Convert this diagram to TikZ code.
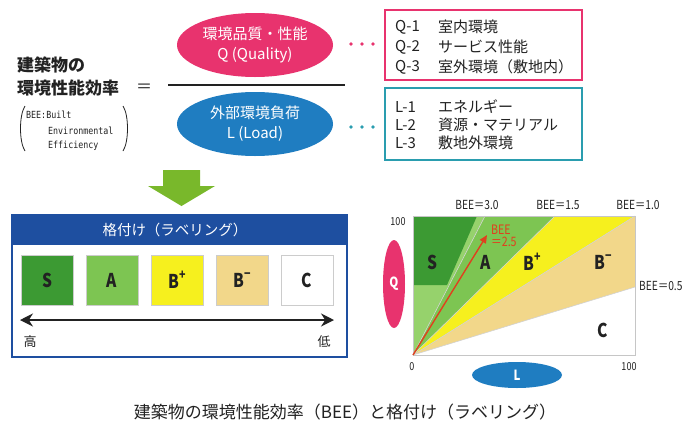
\documentclass[tikz,border=0pt]{standalone}
\usepackage{fontspec}
\usetikzlibrary{shapes.geometric,arrows.meta}
\setmainfont{Noto Sans CJK JP}
\newfontfamily\cond{Noto Sans CJK JP}[FakeStretch=0.82]
\newfontfamily\mono{DejaVu Sans Mono}[FakeStretch=0.85]
\definecolor{txt}{HTML}{222222}
\definecolor{qpink}{HTML}{E8336E}
\definecolor{lblue}{HTML}{1F7DC1}
\definecolor{myteal}{HTML}{2A9DAF}
\definecolor{hdrblue}{HTML}{1E4FA0}
\definecolor{gS}{HTML}{3C9A33}
\definecolor{gA}{HTML}{7DC552}
\definecolor{gL}{HTML}{96D26C}
\definecolor{yB}{HTML}{F6F01E}
\definecolor{tB}{HTML}{F2D78A}
\definecolor{arrowgreen}{HTML}{79B82B}
\definecolor{redarr}{HTML}{E0401E}
\tikzset{
  bodytxt/.style={font=\fontsize{15}{18}\selectfont, anchor=west},
  chartlbl/.style={font=\cond\fontsize{12.5}{13}\selectfont},
  bigletter/.style={font=\cond\bfseries\fontsize{19}{20}\selectfont},
  legsq/.style={draw=gray!40, line width=0.6pt, minimum width=52pt, minimum height=50pt, font=\cond\bfseries\fontsize{19}{20}\selectfont},
  sep/.style={draw=gray!35, line width=0.6pt},
  qdot/.style={circle, fill=qpink, minimum size=3.6pt},
  ldot/.style={circle, fill=myteal, minimum size=3.6pt},
}
\newcommand{\suprx}[1]{\raisebox{0.45em}{\fontsize{13}{13}\selectfont #1}}
\begin{document}
\begin{tikzpicture}[x=1pt,y=-1pt, every node/.style={inner sep=0pt, text=txt}]
\useasboundingbox (0,0) rectangle (689,424);
\fill[white] (0,0) rectangle (689,424);

% ---------- formula ----------
\node[font=\bfseries\fontsize{17}{20}\selectfont, anchor=west] (t1) at (17,65) {建築物の};
\node[font=\bfseries\fontsize{17}{20}\selectfont, anchor=west] (t2) at (17,88) {環境性能効率};
\node[font=\fontsize{16}{16}\selectfont] (eq) at (144,88) {＝};
\node[font=\mono\fontsize{9.8}{11}\selectfont, anchor=west] (b1) at (26,115) {BEE:Built};
\node[font=\mono\fontsize{9.8}{11}\selectfont, anchor=west] (b2) at (48,131) {Environmental};
\node[font=\mono\fontsize{9.8}{11}\selectfont, anchor=west] (b3) at (48,146) {Efficiency};
\draw[line width=0.8pt, txt] (25,106) .. controls (19,115) and (19,142) .. (25,151);
\draw[line width=0.8pt, txt] (123,106) .. controls (129,115) and (129,142) .. (123,151);

\node[ellipse, fill=qpink, minimum width=156pt, minimum height=64pt, align=center,
      text=white, font=\fontsize{15}{20}\selectfont] (qell) at (255,45) {環境品質・性能\\Q (Quality)};
\node[ellipse, fill=lblue, minimum width=156pt, minimum height=64pt, align=center,
      text=white, font=\fontsize{15}{20}\selectfont] (lell) at (255,124) {外部環境負荷\\L (Load)};
\coordinate (fl) at (168,85);
\coordinate (fr) at (345,85);
\draw[line width=1.3pt, txt] (fl) -- (fr);

\node[qdot] (qd1) at (351,44) {};
\node[qdot] (qd2) at (362,44) {};
\node[qdot] (qd3) at (373,44) {};
\node[ldot] (ld1) at (351,127) {};
\node[ldot] (ld2) at (362,127) {};
\node[ldot] (ld3) at (373,127) {};

\draw[qpink, line width=1.3pt] (385,10) rectangle (582,80);
\node[bodytxt] (q1) at (395,27) {Q-1};
\node[bodytxt] (q1t) at (438,27) {室内環境};
\node[bodytxt] (q2) at (395,47) {Q-2};
\node[bodytxt] (q2t) at (438,47) {サービス性能};
\node[bodytxt] (q3) at (395,67) {Q-3};
\node[bodytxt] (q3t) at (438,67) {室外環境（敷地内）};

\draw[myteal, line width=1.3pt] (385,88) rectangle (582,160);
\node[bodytxt] (l1) at (395,107) {L-1};
\node[bodytxt] (l1t) at (438,107) {エネルギー};
\node[bodytxt] (l2) at (395,125) {L-2};
\node[bodytxt] (l2t) at (438,125) {資源・マテリアル};
\node[bodytxt] (l3) at (395,143) {L-3};
\node[bodytxt] (l3t) at (438,143) {敷地外環境};

% ---------- green arrow ----------
\fill[arrowgreen] (163,170) -- (200,170) -- (200,186) -- (215,186) -- (181.5,206) -- (148,186) -- (163,186) -- cycle;

% ---------- labeling box ----------
\fill[hdrblue] (12,215) rectangle (347,245);
\draw[hdrblue, line width=1.2pt] (12,215) rectangle (347,357);
\node[text=white, font=\fontsize{14.5}{16}\selectfont] (hdr) at (175,230) {格付け（ラベリング）};
\node[legsq, fill=gS] (sS) at (47.5,280) {S};
\node[legsq, fill=gA] (sA) at (112,280) {A};
\node[legsq, fill=yB] (sBp) at (177,280) {B\suprx{+}};
\node[legsq, fill=tB] (sBm) at (242,280) {B\suprx{−}};
\node[legsq, fill=white] (sC) at (307,280) {C};
\coordinate (al) at (20,320);
\coordinate (ar) at (334,320);
\draw[line width=1.6pt, txt, {Stealth[length=13pt,width=13pt]}-{Stealth[length=13pt,width=13pt]}] (al) -- (ar);
\node[font=\fontsize{13}{13}\selectfont] (hi) at (30,342) {高};
\node[font=\fontsize{13}{13}\selectfont] (lo) at (324,342) {低};

% ---------- chart ----------
\coordinate (O) at (413,355);
\fill[gL] (O) -- (413,216) -- (485,216) -- cycle;
\fill[gA] (O) -- (485,216) -- (555,216) -- cycle;
\fill[yB] (O) -- (555,216) -- (635,216) -- cycle;
\fill[tB] (O) -- (635,216) -- (635,287) -- cycle;
\fill[gS] (413,216) -- (477,216) -- (447,285) -- (413,285) -- cycle;
\draw[sep] (O) -- (485,216);
\draw[sep] (O) -- (555,216);
\draw[sep] (O) -- (635,216);
\draw[sep] (O) -- (635,287);
\draw[gray!45, line width=0.7pt] (413,216) rectangle (635,355);

\node[chartlbl] (bee30) at (477,205) {BEE＝3.0};
\node[chartlbl] (bee15) at (558,205) {BEE＝1.5};
\node[chartlbl] (bee10) at (638,205) {BEE＝1.0};
\node[chartlbl, anchor=west] (bee05) at (639,286) {BEE＝0.5};

\node[font=\cond\fontsize{11}{11}\selectfont] (n100y) at (398,222) {100};
\node[font=\cond\fontsize{11}{11}\selectfont] (n0) at (412,367) {0};
\node[font=\cond\fontsize{11}{11}\selectfont] (n100x) at (629,367) {100};

\node[bigletter] (rS) at (432,262) {S};
\node[bigletter] (rA) at (486,262) {A};
\node[bigletter] (rBp) at (532,262) {B\suprx{+}};
\node[bigletter] (rBm) at (603,262) {B\suprx{−}};
\node[bigletter] (rC) at (603,330) {C};

\coordinate (pt25) at (487,235);
\draw[redarr, line width=1.4pt, -{Triangle[length=8pt,width=7pt]}] (O) -- (pt25);
\node[text=redarr, anchor=west, align=left, font=\cond\fontsize{13}{12}\selectfont] (b25) at (491,236) {BEE\\＝2.5};

\node[ellipse, fill=qpink, minimum width=22pt, minimum height=88pt, text=white,
      font=\cond\bfseries\fontsize{14}{14}\selectfont] (qax) at (394,284) {Q};
\node[ellipse, fill=lblue, minimum width=90pt, minimum height=26pt, text=white,
      font=\cond\bfseries\fontsize{14}{14}\selectfont] (lax) at (517,375) {L};

% ---------- caption ----------
\node[font=\fontsize{17}{18}\selectfont] (cap) at (345,412) {建築物の環境性能効率（BEE）と格付け（ラベリング）};
\end{tikzpicture}
\end{document}
